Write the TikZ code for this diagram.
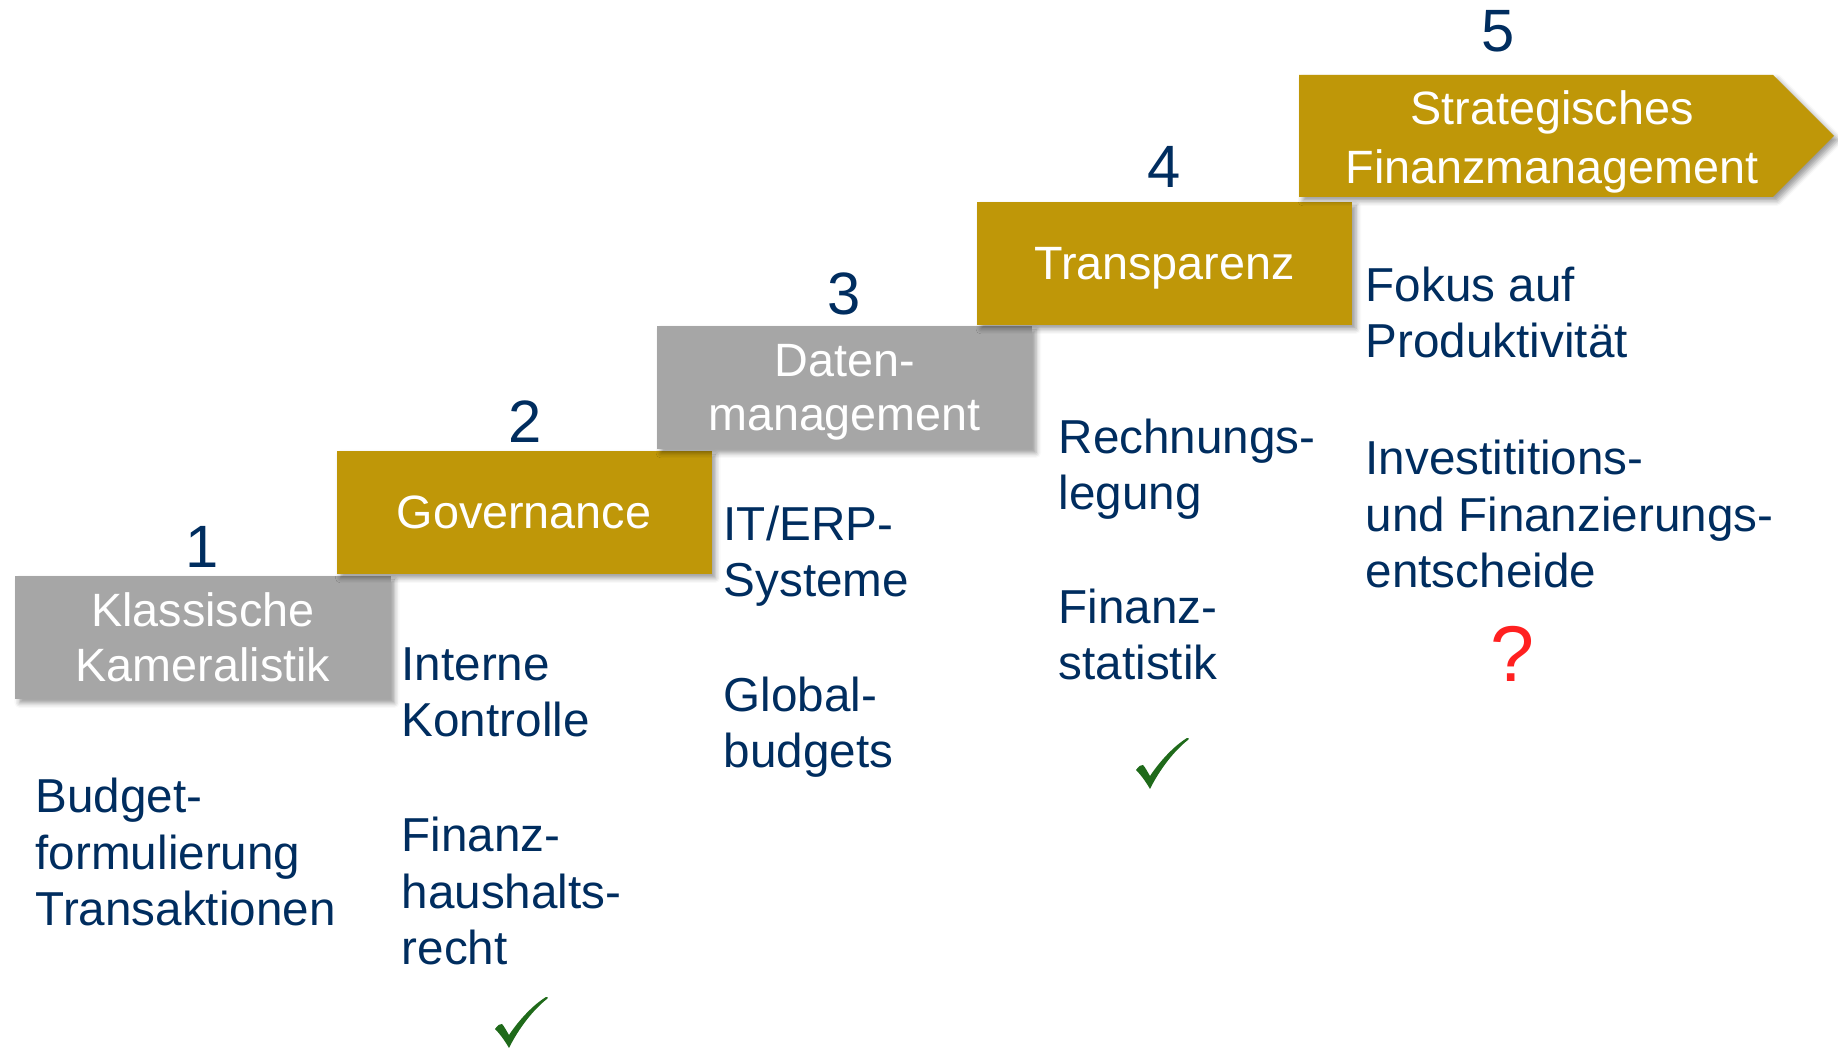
\documentclass[tikz,border=0pt]{standalone}
\usepackage{fontspec}
\setmainfont{Liberation Sans}
\usetikzlibrary{shadows.blur}

\definecolor{stepgold}{RGB}{191,151,8}
\definecolor{stepgrey}{RGB}{166,166,166}
\definecolor{textblue}{RGB}{0,45,95}
\definecolor{okgreen}{RGB}{31,106,26}
\definecolor{qred}{RGB}{255,32,32}

\newcommand{\stepfont}{\fontsize{13.3}{15.6}\selectfont}
\newcommand{\bodyfont}{\fontsize{13.55}{16.2}\selectfont}
\newcommand{\numfont}{\fontsize{17}{20}\selectfont}

\begin{document}
\begin{tikzpicture}[
  stepshadow/.style={blur shadow={shadow xshift=0.04cm, shadow yshift=-0.04cm,
      shadow blur radius=0.05cm, shadow opacity=40}},
  steptext/.style={inner sep=0pt, align=center, text=white, font=\stepfont, text depth=0pt},
  stepbox/.style={steptext, minimum width=3.75cm, minimum height=1.23cm, stepshadow},
  goldbox/.style={stepbox, fill=stepgold},
  greybox/.style={stepbox, fill=stepgrey},
  num/.style={anchor=base, inner sep=0pt, text=textblue, font=\numfont},
  % anchored at the baseline of the last line
  itemtext/.style={anchor=base west, inner sep=0pt, align=left, text=textblue, font=\bodyfont},
  okmark/.pic={
    \fill[okgreen, x=0.01cm, y=0.01cm] (0,19) .. controls (3,23) and (5,24.5) .. (7,24)
      .. controls (9,22) and (11,18) .. (14,13)
      .. controls (24,28) and (38,43) .. (51,51)
      .. controls (52.5,51.5) and (53.5,50.5) .. (52.5,49.5)
      .. controls (38,38) and (24,20) .. (14,0)
      .. controls (10,7) and (5,14) .. (0,19) -- cycle;
  }
]
\useasboundingbox (0,0) rectangle (18.38,10.49);

% the steps
\node[greybox] (s1) at (2.03,4.115) {Klassische\\Kameralistik};
\node[goldbox] (s2) at (5.24,5.365) {Governance};
\node[greybox] (s3) at (8.445,6.615) {Daten-\\management};
\node[goldbox] (s4) at (11.645,7.855) {Transparenz};

% last step is an arrow
\path[fill=stepgold, stepshadow] (12.99,8.52) -- (17.73,8.52) -- (18.34,9.13)
  -- (17.73,9.74) -- (12.99,9.74) -- cycle;
\node[steptext, font=\fontsize{13.3}{16.6}\selectfont] (s5) at (15.52,9.12)
  {Strategisches\\Finanzmanagement};

% step numbers
\node[num] (n1) at (2.02,4.81) {1};
\node[num] (n2) at (5.25,6.06) {2};
\node[num] (n3) at (8.44,7.34) {3};
\node[num] (n4) at (11.64,8.61) {4};
\node[num] (n5) at (14.98,9.97) {5};

% what belongs to each step
\node[itemtext] (t1) at (0.35,1.23) {Budget-\\formulierung\\Transaktionen};
\node[itemtext] (t2a) at (4.01,3.12) {Interne\\Kontrolle};
\node[itemtext] (t2b) at (4.01,0.84) {Finanz-\\haushalts-\\recht};
\node[itemtext] (t3a) at (7.23,4.52) {IT/ERP-\\Systeme};
\node[itemtext] (t3b) at (7.23,2.81) {Global-\\budgets};
\node[itemtext] (t4a) at (10.58,5.39) {Rechnungs-\\legung};
\node[itemtext] (t4b) at (10.58,3.69) {Finanz-\\statistik};
\node[itemtext] (t5a) at (13.65,6.91) {Fokus auf\\Produktivität};
\node[itemtext] (t5b) at (13.65,4.61) {Investititions-\\und Finanzierungs-\\entscheide};

% done / open
\pic at (4.95,0.01) {okmark};
\pic at (11.36,2.60) {okmark};
\node[anchor=base, inner sep=0pt, text=qred, font=\fontsize{22.5}{26}\selectfont] (q5) at (15.12,3.67) {?};
\end{tikzpicture}
\end{document}
